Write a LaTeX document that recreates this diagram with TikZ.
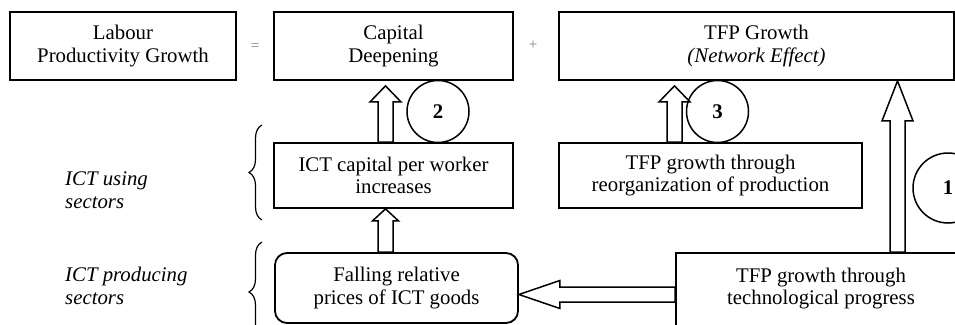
\documentclass[tikz,border=0pt]{standalone}
\usepackage{fontspec}
\setmainfont{Liberation Serif}
\usetikzlibrary{calc,decorations.pathreplacing}

\begin{document}
\begin{tikzpicture}[x=1pt, y=-1pt, font=\fontsize{20.8}{22.5}\selectfont,
    box/.style={draw, line width=1.8pt, align=center, inner sep=0pt},
    round box/.style={box, rounded corners=12pt},
    step circle/.style={circle, draw, line width=1.5pt, inner sep=0pt, font=\fontsize{20.8}{22.5}\selectfont\bfseries},
    sector/.style={anchor=west, align=left, inner sep=0pt, font=\fontsize{20.8}{23}\selectfont\itshape},
    sign/.style={text=gray, inner sep=0pt, font=\fontsize{15}{16}\selectfont},
    sector brace/.style={decorate, decoration={brace, amplitude=13pt}, line width=1.2pt},
    shaft half/.store in=\shafthalf, head half/.store in=\headhalf, head len/.store in=\headlen,
    shaft half=7.5pt, head half=15.5pt, head len=16pt,
    fat arrow/.style={draw, line width=1.5pt, fill=white, to path={
      ($(\tikztostart)!\shafthalf!90:(\tikztotarget)$)
      -- ($(\tikztotarget)!\headlen!(\tikztostart)!\shafthalf!-90:(\tikztostart)$)
      -- ($(\tikztotarget)!\headlen!(\tikztostart)!\headhalf!-90:(\tikztostart)$)
      -- (\tikztotarget)
      -- ($(\tikztotarget)!\headlen!(\tikztostart)!\headhalf!90:(\tikztostart)$)
      -- ($(\tikztotarget)!\headlen!(\tikztostart)!\shafthalf!90:(\tikztostart)$)
      -- ($(\tikztostart)!\shafthalf!-90:(\tikztotarget)$) -- cycle}}]

    \useasboundingbox (0, 0) rectangle (955, 324);
    \clip (0, 0) rectangle (955, 324);

    % top row: the equation
    \node[box, minimum width=226, minimum height=68] at (123, 46) (lpg) {Labour\\Productivity Growth};
    \node[sign] at (255, 47) (eq) {=};
    \node[box, minimum width=239, minimum height=68] at (393.5, 46) (cap) {Capital\\Deepening};
    \node[sign] at (533, 45) (plus) {+};
    \node[box, minimum width=395, minimum height=68] at (756.5, 46) (tfp) {TFP Growth\\\textit{(Network Effect)}};

    % sectors
    \node[sector] at (65, 190) (using) {ICT using\\sectors};
    \node[sector] at (65, 286) (producing) {ICT producing\\sectors};
    \draw[sector brace] (262, 220) -- (262, 125);
    \draw[sector brace] (262, 342) -- (262, 242);

    \node[box, minimum width=239, minimum height=65] at (393.5, 175.5) (ictcap) {ICT capital per worker\\increases};
    \node[box, minimum width=303, minimum height=65] at (710.5, 175.5) (reorg) {TFP growth through\\reorganization of production};
    \node[round box, minimum width=243, minimum height=70] at (396.5, 288) (fall) {Falling relative\\prices of ICT goods};
    \node[box, minimum width=290, minimum height=83, text depth=16pt] at (821, 294.5) (tech) {TFP growth through\\technological progress};

    \node[step circle, minimum size=62] at (438, 111.5) (two) {2};
    \node[step circle, minimum size=62] at (717.5, 111.5) (three) {3};
    \node[step circle, minimum size=70] at (948, 188) (one) {1};

    \coordinate (col2) at (385.5, 0);
    \coordinate (col3) at (674.5, 0);
    \coordinate (col1) at (897.5, 0);
    \coordinate (tip2) at ($(cap.south -| col2)+(0, 5)$);
    \coordinate (tip3) at ($(tfp.south -| col3)+(0, 5)$);

    \path (ictcap.north -| col2) edge[fat arrow] (tip2);
    \path (fall.north -| col2) edge[fat arrow, head half=13pt, head len=12pt] (ictcap.south -| col2);
    \path (reorg.north -| col3) edge[fat arrow] (tip3);
    \path (tech.north -| col1) edge[fat arrow, head len=40pt] (tfp.south -| col1);
    \path (tech.west) edge[fat arrow, head half=14pt, head len=41pt] (fall.east |- tech.west);
\end{tikzpicture}
\end{document}
